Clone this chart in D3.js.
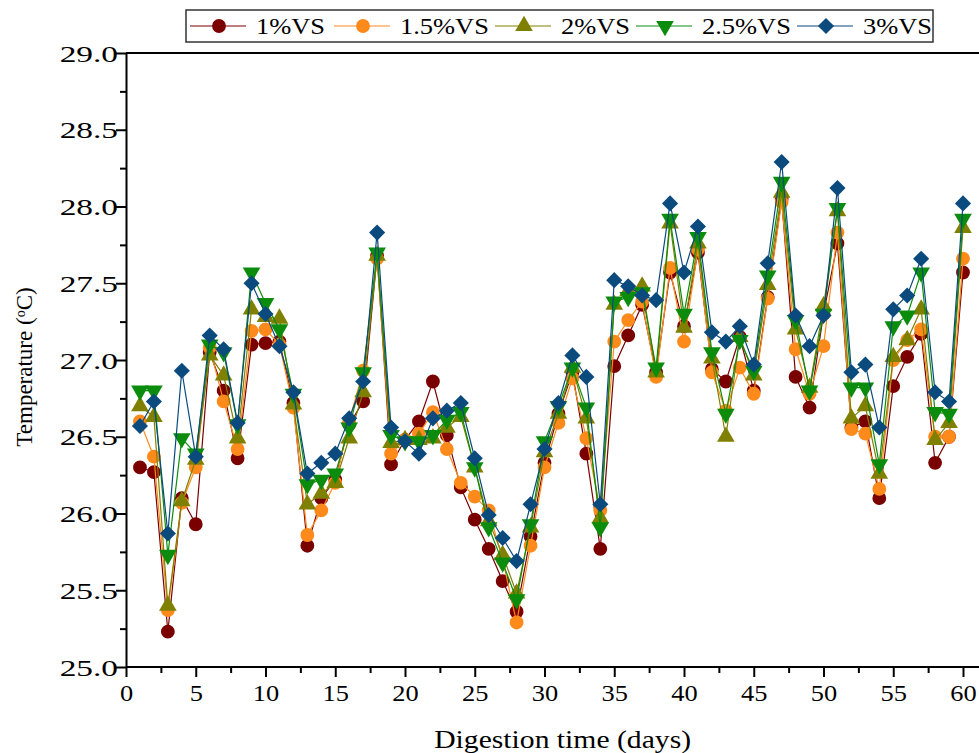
<!DOCTYPE html>
<html lang="en">
<head>
<meta charset="UTF-8" />
<title>Temperature vs digestion time</title>
<script src="https://d3js.org/d3.v7.min.js"></script>
<style>
  body { margin: 0; background: #fff; }
  svg text { font-family: "Liberation Serif", "Times New Roman", Times, serif; fill: #000; }
</style>
</head>
<body>
<div id="chart"></div>
<script>
// days 1..60
const days = d3.range(1, 61);

const seriesNames = ["1%VS", "1.5%VS", "2%VS", "2.5%VS", "3%VS"];

const vs1 = [26.30, 26.27, 25.23, 26.10, 25.93, 27.05, 26.80, 26.36, 27.10, 27.11,
             27.12, 26.72, 25.79, 26.10, 26.22, 26.58, 26.73, 27.68, 26.32, 26.48,
             26.60, 26.86, 26.51, 26.17, 25.96, 25.77, 25.56, 25.36, 25.85, 26.33,
             26.65, 26.92, 26.39, 25.77, 26.96, 27.16, 27.36, 26.92, 27.57, 27.22,
             27.70, 26.94, 26.86, 27.15, 26.80, 27.41, 28.05, 26.89, 26.69, 27.30,
             27.76, 26.56, 26.60, 26.10, 26.83, 27.02, 27.17, 26.33, 26.50, 27.57];
const vs15 = [26.60, 26.37, 25.37, 26.07, 26.30, 27.08, 26.73, 26.42, 27.19, 27.20,
              27.10, 26.69, 25.86, 26.02, 26.20, 26.60, 26.93, 27.66, 26.39, 26.48,
              26.52, 26.66, 26.42, 26.20, 26.11, 26.02, 25.70, 25.29, 25.79, 26.30,
              26.59, 26.88, 26.49, 26.02, 27.12, 27.26, 27.38, 26.89, 27.60, 27.12,
              27.72, 26.92, 26.67, 26.95, 26.78, 27.40, 28.03, 27.07, 26.78, 27.09,
              27.83, 26.55, 26.52, 26.16, 27.00, 27.13, 27.20, 26.50, 26.50, 27.66];
const vs2 = [26.70, 26.63, 25.40, 26.08, 26.35, 27.03, 26.90, 26.49, 27.33, 27.28,
             27.27, 26.71, 26.06, 26.13, 26.20, 26.49, 26.79, 27.68, 26.46, 26.48,
             26.48, 26.49, 26.56, 26.63, 26.30, 25.95, 25.73, 25.48, 25.91, 26.40,
             26.65, 26.95, 26.62, 25.97, 27.36, 27.45, 27.48, 26.92, 27.89, 27.21,
             27.76, 27.01, 26.50, 27.15, 26.90, 27.49, 28.09, 27.20, 26.82, 27.35,
             27.97, 26.62, 26.70, 26.26, 27.02, 27.13, 27.33, 26.48, 26.59, 27.86];
const vs25 = [26.80, 26.80, 25.73, 26.49, 26.39, 27.10, 27.05, 26.58, 27.57, 27.37,
              27.20, 26.78, 26.19, 26.22, 26.26, 26.56, 26.92, 27.70, 26.51, 26.47,
              26.47, 26.51, 26.61, 26.66, 26.30, 25.91, 25.68, 25.44, 25.93, 26.47,
              26.70, 26.95, 26.69, 25.91, 27.38, 27.41, 27.44, 26.95, 27.92, 27.30,
              27.80, 27.05, 26.65, 27.13, 26.93, 27.55, 28.16, 27.26, 26.80, 27.30,
              27.99, 26.82, 26.82, 26.32, 27.22, 27.29, 27.57, 26.66, 26.65, 27.92];
const vs3 = [26.57, 26.73, 25.87, 26.93, 26.37, 27.16, 27.07, 26.59, 27.50, 27.30,
             27.09, 26.79, 26.26, 26.33, 26.39, 26.62, 26.86, 27.83, 26.56, 26.47,
             26.39, 26.62, 26.67, 26.72, 26.36, 25.99, 25.84, 25.69, 26.06, 26.42,
             26.72, 27.03, 26.89, 26.06, 27.52, 27.48, 27.42, 27.39, 28.02, 27.57,
             27.87, 27.18, 27.12, 27.22, 26.97, 27.63, 28.29, 27.29, 27.09, 27.29,
             28.12, 26.92, 26.97, 26.56, 27.33, 27.42, 27.66, 26.79, 26.73, 28.02];

const xTicks = d3.range(0, 61, 5);
const yTicks = d3.range(25, 29.01, 0.5);

const colors = ["#7a0000", "#ff8a1c", "#808000", "#0c8c0c", "#0b4a7d"];
const shapes = ["circle", "circle", "triangle", "triangleDown", "diamond"];

const FONT = "'Liberation Serif', 'Times New Roman', Times, serif";

const W = 979, H = 753;
const margin = {left: 126, right: 0, top: 53, bottom: 86};

// the original figure is a little wider than its fonts: stretch text sideways
function stretch(sel, k) {
  sel.each(function () {
    const w = this.getComputedTextLength();
    this.setAttribute("textLength", w * k);
    this.setAttribute("lengthAdjust", "spacingAndGlyphs");
  });
}

const svg = d3.select("#chart").append("svg")
  .attr("width", W).attr("height", H)
  .attr("font-family", FONT);

const x = d3.scaleLinear().domain([0, 61]).range([margin.left, margin.left + 13.95 * 61]);
const y = d3.scaleLinear().domain([25, 29]).range([H - margin.bottom, margin.top]);

// frame top
svg.append("line")
  .attr("x1", margin.left).attr("x2", W)
  .attr("y1", y(29)).attr("y2", y(29))
  .attr("stroke", "#000").attr("stroke-width", 2);

// x axis
const xAxis = svg.append("g").attr("transform", `translate(0,${y(25)})`);
xAxis.call(d3.axisBottom(x).tickValues(d3.range(0, 61, 2.5)).tickSize(0).tickFormat(""));
xAxis.select(".domain").attr("stroke-width", 2).attr("d", `M${margin.left},0H${W}`);
xAxis.selectAll(".tick").append("line")
  .attr("y2", d => d % 5 === 0 ? 10 : 6)
  .attr("stroke", "#000").attr("stroke-width", 2);
xAxis.selectAll(".tick").filter(d => xTicks.includes(d)).append("text")
  .attr("y", 34).attr("text-anchor", "middle")
  .attr("font-family", FONT).attr("font-size", 24).text(d => d)
  .call(stretch, 1.1);

// y axis
const yAxis = svg.append("g").attr("transform", `translate(${margin.left},0)`);
yAxis.call(d3.axisLeft(y).tickValues(d3.range(25, 29.01, 0.25)).tickSize(0).tickFormat(""));
yAxis.select(".domain").attr("stroke-width", 2);
yAxis.selectAll(".tick").append("line")
  .attr("x2", d => Math.abs(d * 2 - Math.round(d * 2)) < 1e-6 ? -10 : -6)
  .attr("stroke", "#000").attr("stroke-width", 2);
yAxis.selectAll(".tick").filter(d => yTicks.some(t => Math.abs(t - d) < 1e-6)).append("text")
  .attr("x", -8).attr("dy", "0.35em").attr("text-anchor", "end")
  .attr("font-family", FONT).attr("font-size", 23).text(d => d.toFixed(1))
  .call(stretch, 1.45);

// axis titles
svg.append("text")
  .attr("x", x(31.3)).attr("y", 748).attr("text-anchor", "middle")
  .attr("font-size", 26).text("Digestion time (days)")
  .call(stretch, 1.14);

const yt = svg.append("text")
  .attr("transform", `translate(32,367) rotate(-90)`)
  .attr("text-anchor", "middle").attr("font-size", 23);
yt.append("tspan").text("Temperature (");
yt.append("tspan").attr("baseline-shift", "super").attr("font-size", 14).text("o");
yt.append("tspan").text("C)");

function symbolPath(shape) {
  if (shape === "circle") return d3.symbol(d3.symbolCircle, 150)();
  if (shape === "diamond") return d3.symbol(d3.symbolSquare, 130)();
  return d3.symbol(d3.symbolTriangle, 135)();
}
function symbolRotate(shape) {
  if (shape === "diamond") return 45;
  if (shape === "triangleDown") return 180;
  return 0;
}

const allSeries = [vs1, vs15, vs2, vs25, vs3];
const line = d3.line().x((d, i) => x(days[i])).y(d => y(d));

allSeries.forEach((vals, s) => {
  const g = svg.append("g");
  g.append("path").datum(vals)
    .attr("d", line).attr("fill", "none")
    .attr("stroke", colors[s]).attr("stroke-width", 1.2);
  g.selectAll("path.m").data(vals).join("path").attr("class", "m")
    .attr("d", symbolPath(shapes[s]))
    .attr("transform", (d, i) => `translate(${x(days[i])},${y(d)}) rotate(${symbolRotate(shapes[s])})`)
    .attr("fill", colors[s]);
});

// legend
const lg = svg.append("g");
lg.append("rect").attr("x", 186).attr("y", 10).attr("width", 747).attr("height", 32)
  .attr("fill", "#fff").attr("stroke", "#333").attr("stroke-width", 1.5);
const legX = [190, 334, 495, 636, 797];
seriesNames.forEach((name, s) => {
  const lx = legX[s];
  lg.append("line").attr("x1", lx).attr("x2", lx + 56).attr("y1", 26).attr("y2", 26)
    .attr("stroke", colors[s]).attr("stroke-width", 1.2);
  lg.append("path").attr("d", symbolPath(shapes[s]))
    .attr("transform", `translate(${lx + 29},26) rotate(${symbolRotate(shapes[s])})`)
    .attr("fill", colors[s]);
  lg.append("text").attr("x", lx + 66).attr("y", 34)
    .attr("font-size", 23).text(name)
    .call(stretch, 1.15);
});
</script>
</body>
</html>
